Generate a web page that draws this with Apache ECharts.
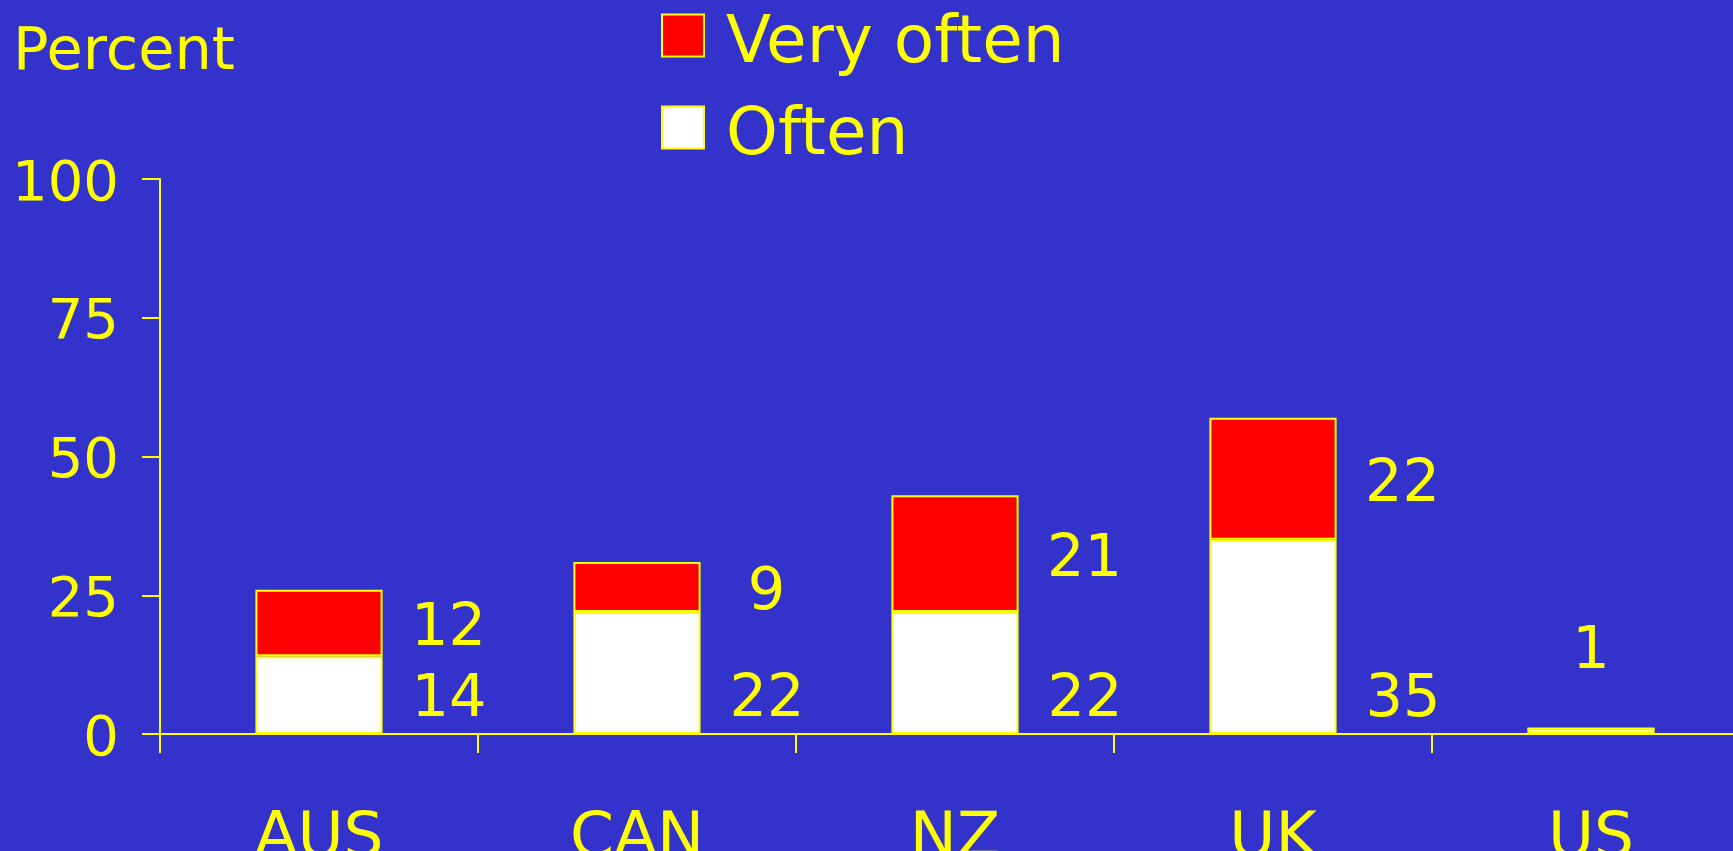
<!DOCTYPE html>
<html>
<head>
<meta charset="utf-8">
<script src="https://cdn.jsdelivr.net/npm/echarts@6/dist/echarts.min.js"></script>
<style>
  html, body { margin: 0; padding: 0; background: #3333cc; }
  #chart { width: 1733px; height: 851px; }
</style>
</head>
<body>
<div id="chart"></div>
<script>
var countries = ['AUS', 'CAN', 'NZ', 'UK', 'US']
var often = [14, 22, 22, 35, 1]
var veryOften = [12, 9, 21, 22, 0]
var yTicks = [0, 25, 50, 75, 100]

var YELLOW = '#ffff00'
var FONT = "'DejaVu Sans', 'Liberation Sans', sans-serif"

var chart = echarts.init(document.getElementById('chart'))

// US has only the small white bar, its number sits above it
var oftenData = often.map(function(v, i) {
  if (countries[i] === 'US') {
    return { value: v, label: { position: 'top', distance: 46, offset: [0, 0], align: 'center' } }
  }
  return v
})

var options = {
  backgroundColor: '#3333cc',
  animation: false,
  textStyle: { fontFamily: FONT, color: YELLOW },
  title: {
    text: 'Percent',
    left: 8,
    top: 19,
    textStyle: { color: YELLOW, fontSize: 59, fontWeight: 'normal', fontFamily: FONT }
  },
  legend: {
    orient: 'vertical',
    left: 661,
    top: -7,
    padding: 0,
    icon: 'rect',
    itemWidth: 42,
    itemHeight: 42,
    itemGap: 7,
    data: ['Very often', 'Often'],
    formatter: function(name) { return '{a|' + name + '}' },
    textStyle: {
      color: YELLOW, fontSize: 66, fontFamily: FONT,
      rich: { a: { color: YELLOW, fontSize: 66, lineHeight: 72, fontFamily: FONT, padding: [19, 0, 0, 17] } }
    }
  },
  grid: { left: 160, top: 179, width: 1590, height: 555, outerBoundsMode: 'none' },
  xAxis: {
    type: 'category',
    data: countries,
    axisLine: { lineStyle: { color: YELLOW, width: 2 } },
    axisTick: { show: true, length: 19, lineStyle: { color: YELLOW, width: 2 } },
    axisLabel: { color: YELLOW, fontSize: 63, margin: 74, fontFamily: FONT }
  },
  yAxis: {
    type: 'value',
    min: 0,
    max: 100,
    interval: 25,
    splitLine: { show: false },
    axisLine: { show: true, lineStyle: { color: YELLOW, width: 2 } },
    axisTick: { show: true, length: 18, lineStyle: { color: YELLOW, width: 2 } },
    axisLabel: {
      color: YELLOW, fontSize: 56, margin: 41, fontFamily: FONT,
      formatter: function(v) { return yTicks.indexOf(v) >= 0 ? '{v|' + v + '}' : '' },
      rich: { v: { color: YELLOW, fontSize: 56, fontFamily: FONT, padding: [12, 0, 0, 0] } }
    }
  },
  series: [
    {
      name: 'Often',
      type: 'bar',
      stack: 'total',
      barWidth: '40%',
      data: oftenData,
      itemStyle: { color: '#ffffff', borderColor: YELLOW, borderWidth: 2 },
      label: {
        show: true,
        position: 'insideBottom',
        offset: [130, 1],
        color: YELLOW,
        fontSize: 59,
        fontFamily: FONT
      }
    },
    {
      name: 'Very often',
      type: 'bar',
      stack: 'total',
      barWidth: '40%',
      data: veryOften,
      itemStyle: { color: '#ff0000', borderColor: YELLOW, borderWidth: 2 },
      label: {
        show: true,
        position: 'right',
        distance: 66,
        offset: [0, 7],
        align: 'center',
        color: YELLOW,
        fontSize: 59,
        fontFamily: FONT,
        formatter: function(p) { return p.value ? String(p.value) : '' }
      }
    }
  ]
}

chart.setOption(options)
</script>
</body>
</html>
